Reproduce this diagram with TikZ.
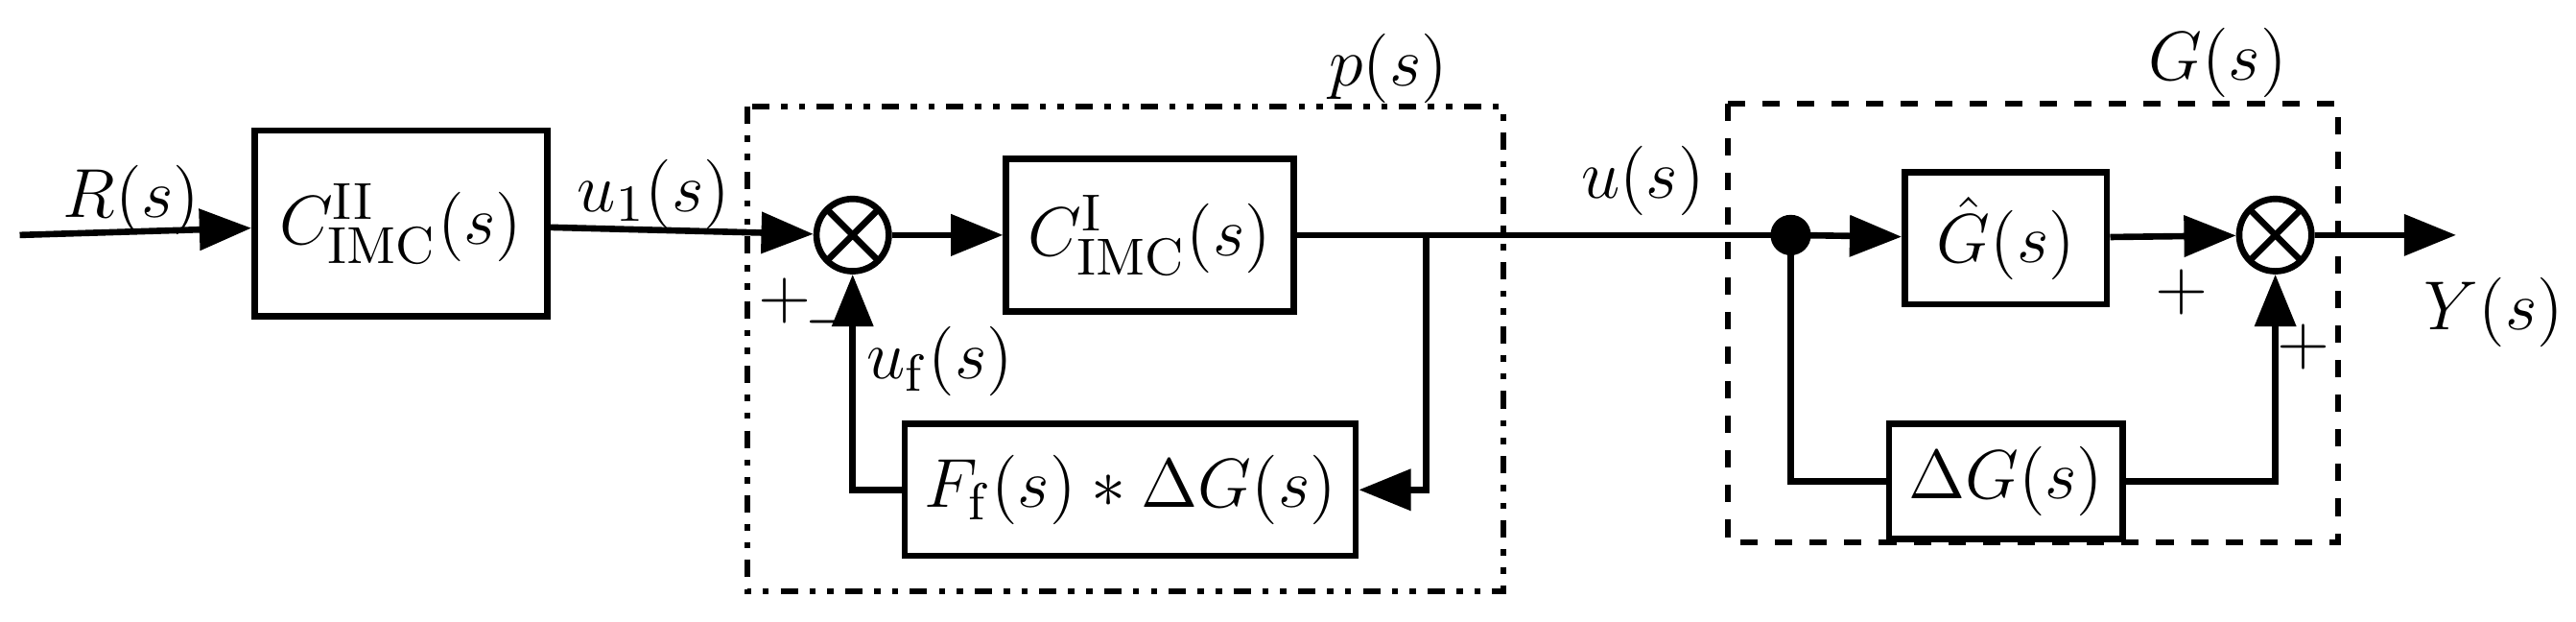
\documentclass[tikz,border=0pt]{standalone}
\usetikzlibrary{arrows.meta}
\begin{document}
\begin{tikzpicture}[x=0.01cm,y=-0.01cm,line width=1.1pt,
  sum/.style={draw,circle,minimum size=0.44cm,inner sep=0pt,
    path picture={\draw (path picture bounding box.north west)--(path picture bounding box.south east)
                        (path picture bounding box.north east)--(path picture bounding box.south west);}},
  arr/.style={-{Triangle[length=9pt,width=7pt]}},
  every node/.append style={font=\fontsize{13}{15}\selectfont}]
\useasboundingbox (0,0) rectangle (1568,378);
% boxes
\node[draw,minimum width=1.78cm,minimum height=1.13cm] (c2) at (244,136) {$C^{\mathrm{II}}_{\mathrm{IMC}}(s)$};
\node[sum] (s1) at (519,143) {};
\node[draw,minimum width=1.75cm,minimum height=0.93cm] (c1) at (700,143) {$C^{\mathrm{I}}_{\mathrm{IMC}}(s)$};
\node[draw,minimum width=2.57cm,minimum height=0.8cm] (ff) at (688,298) {$F_{\mathrm f}(s)*\Delta G(s)$};
\node[draw,minimum width=1.23cm,minimum height=0.8cm] (gh) at (1221,145) {$\hat G(s)$};
\node[sum] (s2) at (1385,143) {};
\node[draw,minimum width=1.37cm,minimum height=0.7cm] (dg) at (1221,293) {$\Delta G(s)$};
\coordinate (in) at (12,143);
\coordinate (out) at (1495,143);
\coordinate (b1) at (868,143);
\coordinate (j) at (1090,143);
% dashed boxes
\draw[dash dot dot,line width=1pt] (455,65) rectangle (915,360);
\draw[dashed,line width=1pt] (1052,63) rectangle (1423,330);
\node at (845,42) {$p(s)$};
\node at (1350,38) {$G(s)$};
% connectors
\draw[arr] (in) -- (c2);
\draw[arr] (c2) -- (s1);
\draw[arr] (s1) -- (c1);
\draw (c1.east) -- (b1) -- (j);
\draw[arr] (b1) |- (ff.east);
\draw[arr] (ff.west) -| (s1.south);
\fill (j) circle (3.5pt);
\draw[arr] (j) -- (gh);
\draw[arr] (gh) -- (s2);
\draw (j) |- (dg.west);
\draw[arr] (dg.east) -| (s2.south);
\draw[arr] (s2) -- (out);
% labels
\node at (80,122) {$R(s)$};
\node at (398,118) {$u_1(s)$};
\node at (478,183) {$+$};
\node at (506,196) {$-$};
\node at (572,220) {$u_{\mathrm f}(s)$};
\node at (1000,110) {$u(s)$};
\node at (1328,178) {$+$};
\node at (1402,211) {$+$};
\node at (1518,190) {$Y(s)$};
\end{tikzpicture}
\end{document}
